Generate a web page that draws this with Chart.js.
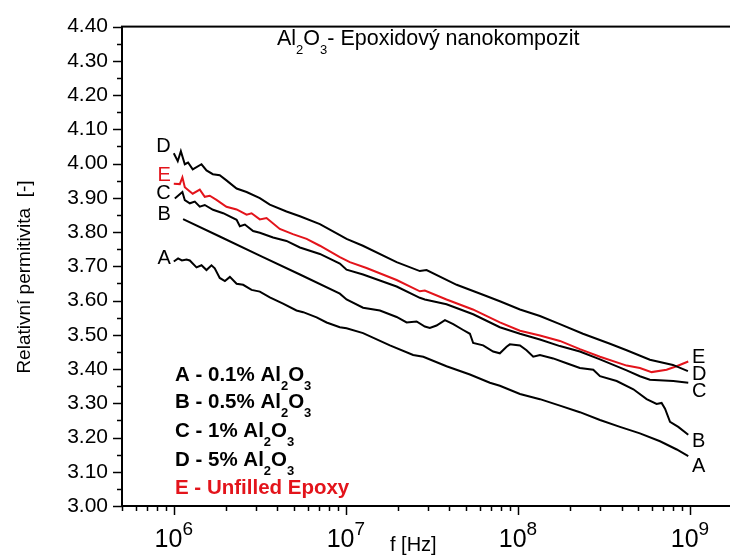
<!DOCTYPE html>
<html>
<head>
<meta charset="utf-8">
<script src="https://cdn.jsdelivr.net/npm/chart.js@4"></script>
<style>
  html, body { margin: 0; padding: 0; background: #fff; overflow: hidden; }
  #wrap { width: 730px; height: 558px; overflow: hidden; }
</style>
</head>
<body>
<div id="wrap"><canvas id="chart" width="760" height="558"></canvas></div>
<script>
const logF_A = [6.00, 6.025, 6.047, 6.074, 6.093, 6.132, 6.161, 6.19, 6.219, 6.238, 6.267, 6.297, 6.326, 6.365, 6.403, 6.452, 6.5, 6.558, 6.635, 6.713, 6.752, 6.83, 6.888, 6.965, 7.004, 7.1, 7.256, 7.391, 7.45, 7.585, 7.721, 7.837, 7.895, 8.012, 8.128, 8.244, 8.36, 8.477, 8.593, 8.709, 8.826, 8.923, 8.99];
const perm_A = [3.714, 3.723, 3.717, 3.72, 3.717, 3.697, 3.703, 3.689, 3.703, 3.694, 3.666, 3.657, 3.669, 3.649, 3.646, 3.631, 3.626, 3.609, 3.591, 3.571, 3.566, 3.551, 3.536, 3.522, 3.519, 3.505, 3.469, 3.441, 3.436, 3.408, 3.384, 3.36, 3.351, 3.327, 3.312, 3.293, 3.274, 3.251, 3.231, 3.212, 3.189, 3.165, 3.146];

const logF_B = [6.054, 6.267, 6.5, 6.733, 6.965, 7.004, 7.1, 7.198, 7.295, 7.353, 7.411, 7.459, 7.488, 7.527, 7.576, 7.624, 7.682, 7.721, 7.74, 7.798, 7.856, 7.895, 7.934, 7.953, 8.012, 8.05, 8.089, 8.128, 8.205, 8.283, 8.36, 8.438, 8.477, 8.574, 8.671, 8.748, 8.806, 8.835, 8.855, 8.884, 8.932, 8.99];
const perm_B = [3.838, 3.787, 3.731, 3.676, 3.62, 3.603, 3.579, 3.571, 3.552, 3.536, 3.539, 3.524, 3.52, 3.527, 3.543, 3.531, 3.514, 3.503, 3.476, 3.469, 3.451, 3.446, 3.465, 3.472, 3.469, 3.455, 3.436, 3.441, 3.431, 3.417, 3.403, 3.398, 3.379, 3.365, 3.341, 3.312, 3.298, 3.301, 3.284, 3.246, 3.231, 3.208];

const logF_C = [6.006, 6.05, 6.064, 6.093, 6.122, 6.151, 6.18, 6.228, 6.287, 6.365, 6.384, 6.413, 6.461, 6.5, 6.577, 6.655, 6.733, 6.849, 6.965, 7.004, 7.1, 7.295, 7.43, 7.459, 7.585, 7.74, 7.895, 8.012, 8.128, 8.244, 8.36, 8.477, 8.632, 8.709, 8.767, 8.903, 8.99];
const perm_C = [3.898, 3.917, 3.893, 3.884, 3.889, 3.874, 3.879, 3.865, 3.855, 3.836, 3.817, 3.822, 3.803, 3.798, 3.784, 3.774, 3.755, 3.736, 3.708, 3.69, 3.676, 3.641, 3.608, 3.603, 3.589, 3.56, 3.522, 3.503, 3.486, 3.467, 3.451, 3.428, 3.396, 3.379, 3.369, 3.365, 3.36];

const logF_D = [6.0, 6.023, 6.041, 6.064, 6.083, 6.11, 6.161, 6.19, 6.227, 6.267, 6.306, 6.365, 6.423, 6.5, 6.558, 6.655, 6.733, 6.849, 6.965, 7.004, 7.099, 7.295, 7.43, 7.469, 7.644, 7.797, 7.895, 8.012, 8.128, 8.244, 8.378, 8.535, 8.632, 8.767, 8.901, 8.988];
const perm_D = [4.03, 4.007, 4.036, 3.998, 4.003, 3.983, 3.998, 3.98, 3.969, 3.966, 3.951, 3.927, 3.917, 3.899, 3.88, 3.86, 3.846, 3.823, 3.791, 3.78, 3.76, 3.712, 3.686, 3.689, 3.646, 3.617, 3.598, 3.574, 3.555, 3.531, 3.503, 3.474, 3.455, 3.427, 3.412, 3.394];

const logF_E = [6.0, 6.035, 6.05, 6.064, 6.083, 6.11, 6.151, 6.18, 6.209, 6.248, 6.306, 6.365, 6.423, 6.452, 6.5, 6.539, 6.616, 6.692, 6.772, 6.849, 6.965, 7.023, 7.12, 7.295, 7.43, 7.459, 7.585, 7.738, 7.895, 8.012, 8.128, 8.244, 8.36, 8.477, 8.632, 8.709, 8.777, 8.864, 8.922, 8.99];
const perm_E = [3.941, 3.94, 3.96, 3.931, 3.923, 3.912, 3.924, 3.903, 3.906, 3.894, 3.874, 3.866, 3.851, 3.855, 3.837, 3.841, 3.809, 3.794, 3.78, 3.76, 3.727, 3.712, 3.695, 3.66, 3.627, 3.629, 3.603, 3.574, 3.536, 3.512, 3.498, 3.482, 3.458, 3.436, 3.41, 3.403, 3.391, 3.398, 3.408, 3.422];

const curveNames = ['A', 'B', 'C', 'D', 'E'];
const legendLabels = ['A - 0.1% ', 'B - 0.5% ', 'C - 1% ', 'D - 5% ', 'E - Unfilled Epoxy'];
const xTickExponents = [6, 7, 8, 9];

const FONT = "'Liberation Sans', Arial, sans-serif";
const RED = '#e3141b';

function toPoints(logF, perm) {
  return logF.map((lf, i) => ({ x: Math.pow(10, lf), y: perm[i] }));
}

const series = [
  { name: 'A', data: toPoints(logF_A, perm_A), color: '#000' },
  { name: 'B', data: toPoints(logF_B, perm_B), color: '#000' },
  { name: 'C', data: toPoints(logF_C, perm_C), color: '#000' },
  { name: 'D', data: toPoints(logF_D, perm_D), color: '#000' },
  { name: 'E', data: toPoints(logF_E, perm_E), color: RED }
];

// text with chemical subscripts: parts = [[text, isSub], ...]
function drawParts(ctx, parts, x, y, size, subSize, drop, weight) {
  let cx = x;
  parts.forEach(([t, sub]) => {
    ctx.font = `${weight} ${sub ? subSize : size}px ${FONT}`;
    ctx.fillText(t, cx, sub ? y + drop : y);
    cx += ctx.measureText(t).width;
  });
}

const decorPlugin = {
  id: 'decor',
  afterDraw(chart) {
    const ctx = chart.ctx;
    const area = chart.chartArea;
    const xs = chart.scales.x;
    const ys = chart.scales.y;
    ctx.save();
    ctx.strokeStyle = '#000';
    ctx.fillStyle = '#000';

    // frame
    ctx.lineWidth = 2;
    ctx.strokeRect(area.left, area.top, area.right - area.left, area.bottom - area.top);

    // y ticks (major 0.1, minor 0.05)
    ctx.lineWidth = 1.5;
    for (let i = 0; i <= 28; i++) {
      const v = 3 + i * 0.05;
      const py = Math.round(ys.getPixelForValue(v)) + 0.5;
      const len = i % 2 === 0 ? 9 : 5;
      ctx.beginPath();
      ctx.moveTo(area.left - len, py);
      ctx.lineTo(area.left, py);
      ctx.stroke();
    }

    // x ticks (log decades)
    for (let d = 5; d <= 9; d++) {
      for (let m = 1; m <= 9; m++) {
        const v = m * Math.pow(10, d);
        if (v < xs.min || v > xs.max) continue;
        const px = Math.round(xs.getPixelForValue(v)) + 0.5;
        const len = m === 1 ? 9 : 5;
        ctx.beginPath();
        ctx.moveTo(px, area.bottom);
        ctx.lineTo(px, area.bottom + len);
        ctx.stroke();
      }
    }

    // x tick labels 10^n
    ctx.textBaseline = 'alphabetic';
    ctx.textAlign = 'left';
    xTickExponents.forEach(e => {
      const px = xs.getPixelForValue(Math.pow(10, e));
      ctx.font = `25px ${FONT}`;
      const w1 = ctx.measureText('10').width;
      ctx.font = `19px ${FONT}`;
      const w2 = ctx.measureText(String(e)).width;
      const x0 = px - (w1 + w2) / 2;
      ctx.font = `25px ${FONT}`;
      ctx.fillText('10', x0, 547);
      ctx.font = `19px ${FONT}`;
      ctx.fillText(String(e), x0 + w1, 535);
    });

    // x axis title
    ctx.font = `20px ${FONT}`;
    ctx.fillText('f [Hz]', 390, 551);

    // y axis title
    ctx.save();
    ctx.translate(25, 277);
    ctx.rotate(-Math.PI / 2);
    ctx.textAlign = 'center';
    ctx.textBaseline = 'middle';
    ctx.font = `19px ${FONT}`;
    ctx.fillText('Relativní permitivita  [-]', 0, 0);
    ctx.restore();

    // chart title
    drawParts(ctx, [['Al', false], ['2', true], ['O', false], ['3', true], ['- Epoxidový nanokompozit', false]],
      277, 45, 21.5, 13, 9, 'normal');

    // legend block
    const legendBase = [381, 408, 437, 466, 494];
    legendLabels.forEach((lab, i) => {
      ctx.fillStyle = i === 4 ? RED : '#000';
      const parts = i === 4 ? [[lab, false]] : [[lab + 'Al', false], ['2', true], ['O', false], ['3', true]];
      drawParts(ctx, parts, 175, legendBase[i], 20.5, 13, 9, 'bold');
    });

    // curve letters at both ends
    const leftBase = { A: 263.5, B: 220, C: 198.5, D: 152, E: 180.5 };
    const rightBase = { A: 472, B: 447, C: 397, D: 380, E: 363 };
    ctx.font = `20px ${FONT}`;
    const xl = xs.getPixelForValue(1e6) - 3;
    const xr = xs.getPixelForValue(1e9) + 2;
    curveNames.forEach(n => {
      ctx.fillStyle = n === 'E' ? RED : '#000';
      ctx.textAlign = 'right';
      ctx.fillText(n, xl, leftBase[n]);
      ctx.fillStyle = '#000';
      ctx.textAlign = 'left';
      ctx.fillText(n, xr, rightBase[n]);
    });

    ctx.restore();
  }
};

new Chart(document.getElementById('chart'), {
  type: 'line',
  data: {
    datasets: series.map(s => ({
      label: s.name,
      data: s.data,
      borderColor: s.color,
      borderWidth: 2,
      pointRadius: 0,
      tension: 0,
      fill: false
    }))
  },
  options: {
    responsive: false,
    animation: false,
    layout: { padding: { top: 16, right: 20, left: 0, bottom: 0 } },
    plugins: {
      legend: { display: false },
      tooltip: { enabled: false }
    },
    scales: {
      x: {
        type: 'logarithmic',
        min: 5e5,
        max: 1.953e9,
        bounds: 'data',
        grid: { display: false, drawTicks: false },
        border: { display: false },
        ticks: { display: false },
        afterFit: s => { s.height = 52; }
      },
      y: {
        type: 'linear',
        min: 3.0,
        max: 4.4,
        grid: { display: false, drawTicks: false },
        border: { display: false },
        ticks: {
          stepSize: 0.1,
          autoSkip: false,
          padding: 14,
          color: '#000',
          font: { family: FONT, size: 21 },
          callback: v => Number(v).toFixed(2)
        },
        afterFit: s => { s.width = 122; }
      }
    }
  },
  plugins: [decorPlugin]
});
</script>
</body>
</html>
